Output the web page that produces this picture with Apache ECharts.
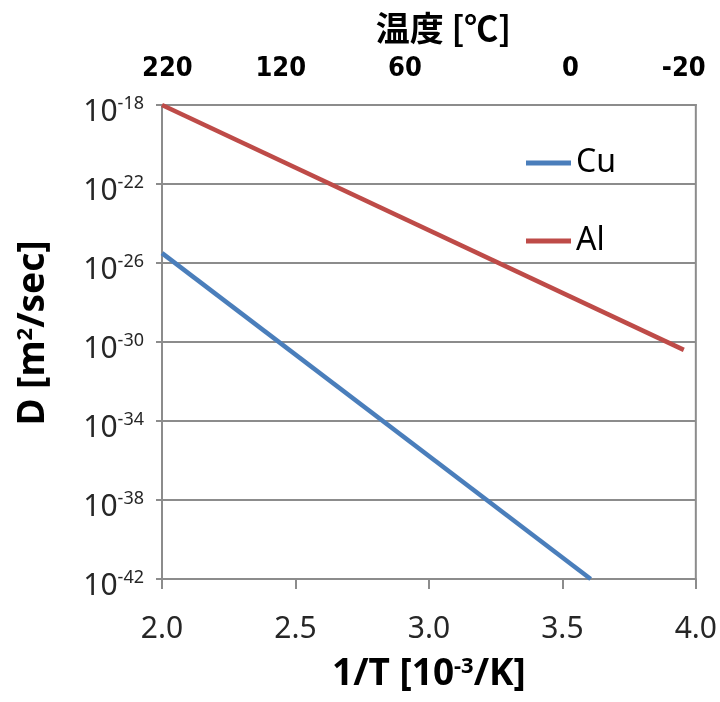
<!DOCTYPE html>
<html>
<head>
<meta charset="utf-8">
<script src="https://cdn.jsdelivr.net/npm/echarts@6/dist/echarts.min.js"></script>
<style>
html,body{margin:0;padding:0;background:#fff;}
#chart{width:720px;height:702px;}
</style>
</head>
<body>
<div id="chart"></div>
<script>
// Data (1/T in 10^-3 /K, D in m^2/sec)
const seriesNames = ['Cu', 'Al'];
const cuX = [2.0, 3.606];
const cuD = [3.16e-26, 1e-42];
const alX = [2.0, 3.955];
const alD = [1e-18, 3.98e-31];
// Top axis (temperature in degC) tick positions and labels
const topTickValues = [2.02, 2.445, 2.91, 3.53, 3.955];
const topTickLabels = ['220', '120', '60', '0', '-20'];
// Bottom and left axis ticks (left axis: decade exponents of D)
const xMin = 2.0, xMax = 4.0, xStep = 0.5;
const yMinExp = -42, yMaxExp = -18, yStepExp = 4;

const axisGray = '#8c8c8c';
const chart = echarts.init(document.getElementById('chart'));
const supRich = {
  b: { fontSize: 30, fontFamily: 'Noto Sans', color: '#262626', lineHeight: 34 },
  s: { fontSize: 18, fontFamily: 'Noto Sans', color: '#262626', verticalAlign: 'top', lineHeight: 20 }
};
chart.setOption({
  animation: false,
  backgroundColor: '#fff',
  grid: { left: 162, right: 23, top: 105, bottom: 123, show: true, borderColor: axisGray, borderWidth: 2 },
  legend: {
    orient: 'vertical', left: 526, top: 145, padding: 0,
    icon: 'rect', itemWidth: 45, itemHeight: 5, itemGap: 42,
    textStyle: { fontSize: 32, fontFamily: 'Noto Sans', color: '#000', lineHeight: 36 },
    data: seriesNames
  },
  xAxis: [{
    type: 'value', position: 'bottom', min: xMin, max: xMax, interval: xStep,
    axisLine: { show: true, lineStyle: { color: axisGray, width: 2 } },
    axisTick: { show: true, inside: false, length: 10, lineStyle: { color: axisGray, width: 2 } },
    splitLine: { show: false },
    axisLabel: { margin: 35, fontSize: 30, fontFamily: 'Noto Sans', color: '#262626', formatter: v => v.toFixed(1) },
    name: '1/T [10{s|-3}/K]', nameLocation: 'middle', nameGap: 77,
    nameTextStyle: { fontSize: 37, fontWeight: 'bold', fontFamily: 'Noto Sans', color: '#000',
      rich: { s: { fontSize: 22, fontWeight: 'bold', fontFamily: 'Noto Sans', verticalAlign: 'top', color: '#000' } } }
  }, {
    type: 'value', position: 'top', min: xMin, max: xMax,
    axisLine: { show: true, lineStyle: { color: axisGray, width: 2 } },
    axisTick: { show: false },
    splitLine: { show: false },
    axisLabel: {
      customValues: topTickValues, margin: 23, fontSize: 27, fontWeight: 'bold',
      fontFamily: '"DejaVu Sans Condensed", "Noto Sans", sans-serif', color: '#000',
      formatter: v => { const i = topTickValues.findIndex(t => Math.abs(t - v) < 1e-6); return i >= 0 ? topTickLabels[i] : ''; }
    },
    name: '温度 [℃]', nameLocation: 'middle', nameGap: 60,
    nameTextStyle: { fontSize: 34, fontWeight: 'bold', fontFamily: 'Noto Sans CJK JP', color: '#000', padding: [0, 0, 0, 29] }
  }],
  yAxis: {
    type: 'value', min: yMinExp, max: yMaxExp, interval: yStepExp,
    axisLine: { show: true, lineStyle: { color: axisGray, width: 2 } },
    axisTick: { show: true, inside: false, length: 6, lineStyle: { color: axisGray, width: 2 } },
    splitLine: { show: true, lineStyle: { color: axisGray, width: 2 } },
    axisLabel: {
      margin: 18, padding: [14, 0, 0, 0],
      formatter: v => '{b|10}{s|' + Math.round(v) + '}',
      rich: supRich
    },
    name: 'D [m{s|2}/sec]', nameLocation: 'middle', nameGap: 110,
    nameTextStyle: { fontSize: 37, fontWeight: 'bold', fontFamily: 'Noto Sans', color: '#000', padding: [0, 0, 0, 18],
      rich: { s: { fontSize: 22, fontWeight: 'bold', fontFamily: 'Noto Sans', verticalAlign: 'top', color: '#000' } } }
  },
  series: [{
    name: seriesNames[0], type: 'line', xAxisIndex: 0,
    data: cuX.map((x, i) => [x, Math.log10(cuD[i])]),
    showSymbol: false, symbol: 'none',
    lineStyle: { color: '#4A7EBB', width: 4.5 }, itemStyle: { color: '#4A7EBB' }
  }, {
    name: seriesNames[1], type: 'line', xAxisIndex: 0,
    data: alX.map((x, i) => [x, Math.log10(alD[i])]),
    showSymbol: false, symbol: 'none',
    lineStyle: { color: '#BE4B48', width: 4.5 }, itemStyle: { color: '#BE4B48' }
  }]
});
</script>
</body>
</html>
